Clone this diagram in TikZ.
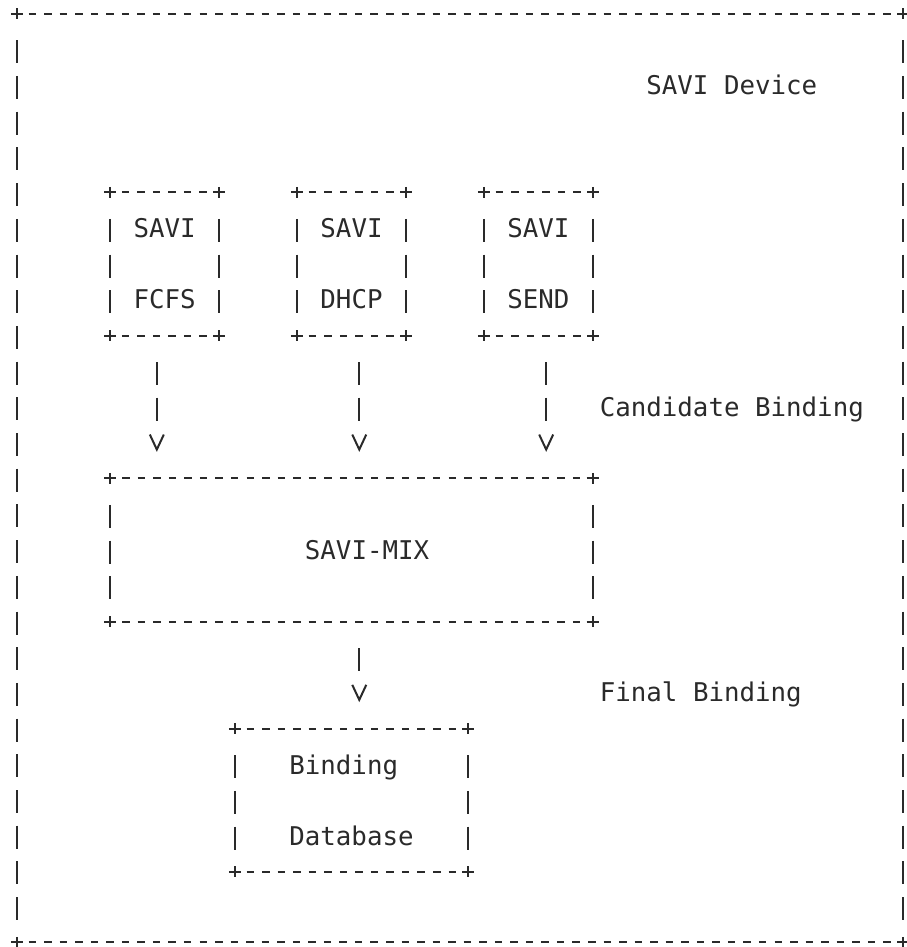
\documentclass[tikz,border=0pt]{standalone}
\usepackage{fontspec}
\setmonofont{DejaVu Sans Mono}
\usetikzlibrary{positioning}
\usetikzlibrary{arrows.meta}

\definecolor{ink}{HTML}{2A2A2A}
\newcommand{\asciifont}{\ttfamily\fontsize{25.8pt}{35.7pt}\selectfont}
% border of a box, drawn like +----+ and | |
\newcommand{\asciiframe}[1]{%
  \draw[hedge] (#1.north west) -- (#1.north east);
  \draw[hedge] (#1.south west) -- (#1.south east);
  \draw[vedge] (#1.north west) -- (#1.south west);
  \draw[vedge] (#1.north east) -- (#1.south east);
  \foreach \corn in {north west,north east,south west,south east}
    \draw[corner] (#1.\corn) +(-6,0) -- +(6,0) +(0,-5.5) -- +(0,5.5);
}

\begin{document}
\begin{tikzpicture} [
       x=1pt, y=-1pt,
       box/.style={inner sep=0pt, minimum width=108.8pt, minimum height=142.8pt,
               font=\asciifont, text=ink, align=center},
       texte/.style={inner sep=0pt, anchor=base, font=\asciifont, text=ink},
       hedge/.style={draw=ink, line width=2pt, dash pattern=on 7.5pt off 8.04pt, dash phase=3.75pt},
       vedge/.style={draw=ink, line width=2pt, dash pattern=on 23pt off 12.7pt,
               shorten <=26.5pt, shorten >=21.9pt},
       corner/.style={draw=ink, line width=2pt},
       line/.style={draw=ink, line width=2pt, dash pattern=on 23pt off 12.7pt on 23pt off 40pt,
               shorten <=26.5pt, shorten >=26.4pt,
               -{Straight Barb[length=15pt,width=14pt]}},
       short line/.style={line, dash pattern=on 23pt off 40pt},
       node distance=77.7pt,
       ]
       \useasboundingbox (0,0) rectangle (906,947);
       \node (device) [box, minimum width=885.8pt, minimum height=928.2pt] at (459.9,478.1) {};
       \node (title) [texte] at (731.8,94.8) {SAVI Device};
       \node (fcfs) [box] at (164.6,263.9) {SAVI\\[35.7pt]FCFS};
       \node (dhcp) [box, right=of fcfs] {SAVI\\[35.7pt]DHCP};
       \node (send) [box, right=of dhcp] {SAVI\\[35.7pt]SEND};
       \node (mix) [box, minimum width=481.8pt, below=142.8pt of dhcp] {};
       \node (mixname) [texte] at ([xshift=15.54pt,yshift=-9.4pt]mix.center) {SAVI-MIX};
       \node (db) [box, minimum width=233.1pt, align=left, below=107.1pt of mix] {Binding\\[35.7pt]Database};
       \node (cand) [texte] at (731.8,416.1) {Candidate Binding};
       \node (final) [texte] at (700.8,701.7) {Final Binding};
       \foreach \b in {device,fcfs,dhcp,send,mix,db}
         \asciiframe{\b};
        \begin{scope}[every path/.style=line]
        \path ([xshift=-7.77pt]fcfs.south) -- ([xshift=-7.77pt]fcfs.south |- mix.north);
        \path ([xshift=7.77pt]dhcp.south) -- ([xshift=7.77pt]dhcp.south |- mix.north);
        \path ([xshift=7.77pt]send.south) -- ([xshift=7.77pt]send.south |- mix.north);
\end{scope}
        \draw[short line] ([xshift=7.77pt]mix.south) -- ([xshift=7.77pt]mix.south |- db.north);
\end{tikzpicture}
\end{document}
